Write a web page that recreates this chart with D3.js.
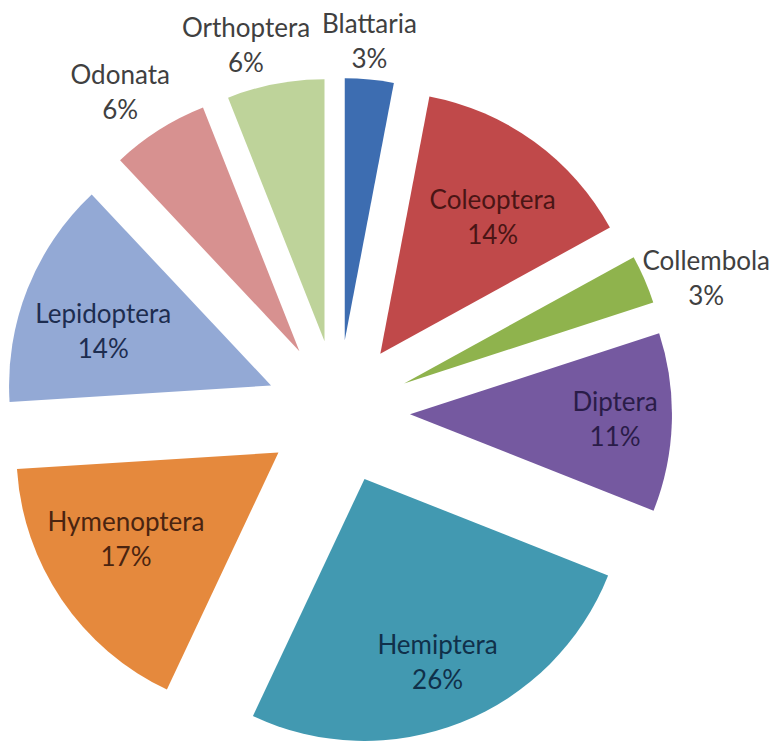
<!DOCTYPE html>
<html>
<head>
<meta charset="utf-8">
<script src="https://cdn.jsdelivr.net/npm/d3@7"></script>
<style>
  html, body { margin: 0; padding: 0; background: #fff; }
  svg { display: block; font-family: Lato, "Open Sans", sans-serif; }
</style>
</head>
<body>
<svg id="chart" width="773" height="742"></svg>
<script>
(function () {
    'use strict';

    // order taken clockwise from 12 o'clock
    var categories = ["Blattaria", "Coleoptera", "Collembola", "Diptera", "Hemiptera",
                      "Hymenoptera", "Lepidoptera", "Odonata", "Orthoptera"];
    var percents = [3, 14, 3, 11, 26, 17, 14, 6, 6];

    var colors = ["#3d6db1", "#c0494a", "#8fb34d", "#7559a0", "#4299b1",
                  "#e5893d", "#93a9d5", "#d79190", "#bed39a"];
    var innerText = ["#1c2f55", "#4a1515", "#2f3d18", "#2a1c48", "#10304a",
                     "#4a2410", "#1d2d50", "#4a2020", "#39431f"];

    var W = 773;
    var cx = 338, cy = 412, r = 262, explode = 72;
    var lineGap = 35, boxH = 54, edgeMargin = 18, arcMargin = 12, gap = 10, pad = 12;

    var svg = d3.select("#chart");
    var g = svg.append("g").attr("transform", "translate(" + cx + "," + cy + ")");

    var pie = d3.pie().sort(null).value(d => d);
    var arcs = pie(percents);
    var arc = d3.arc().innerRadius(0).outerRadius(r);

    function mid(d) { return (d.startAngle + d.endAngle) / 2; }
    function dir(d) { var a = mid(d); return [Math.sin(a), -Math.cos(a)]; }

    g.selectAll("path.slice")
        .data(arcs)
      .enter().append("path")
        .attr("class", "slice")
        .attr("d", arc)
        .attr("fill", (d, i) => colors[i])
        .attr("transform", d => {
            var u = dir(d);
            return "translate(" + explode * u[0] + "," + explode * u[1] + ")";
        });

    // labels: big slices get the label inside, small ones outside
    var labels = g.selectAll("text.lbl")
        .data(arcs)
      .enter().append("text")
        .attr("class", "lbl")
        .attr("text-anchor", "middle")
        .style("font-size", "26px")
        .attr("fill", (d, i) => d.value >= 10 ? innerText[i] : "#404040");

    labels.append("tspan").attr("x", 0).attr("dy", 0).text((d, i) => categories[i]);
    labels.append("tspan").attr("x", 0).attr("dy", lineGap).text(d => d.value + "%");

    function rampX(x) { return Math.max(0, Math.min(1, (x - 0.3) / 0.45)); }
    function rampY(x) { return Math.max(0, Math.min(1, (x - 0.45) / 0.4)); }

    var boxes = [];
    labels.each(function (d) {
        var w = 0;
        d3.select(this).selectAll("tspan").each(function () {
            w = Math.max(w, this.getComputedTextLength());
        });
        var u = dir(d), px, py;
        var hw = w / 2, hh = boxH / 2;
        if (d.value >= 10) {
            // inside: along the bisector, slid sideways to keep clear of the slice edges
            var a = mid(d), half = (d.endAngle - d.startAngle) / 2;
            var tc = [Math.cos(a), Math.sin(a)];
            var nA = [Math.cos(d.startAngle), Math.sin(d.startAngle)];
            var nB = [-Math.cos(d.endAngle), -Math.sin(d.endAngle)];
            var kA = hw * Math.abs(nA[0]) + hh * Math.abs(nA[1]);
            var kB = hw * Math.abs(nB[0]) + hh * Math.abs(nB[1]);
            var D = 0.67 * r, base = D * Math.sin(half), ch = Math.cos(half);
            var dA = base - kA, dB = base - kB, t = 0;
            if (dA < edgeMargin && dB < edgeMargin) t = (kA - kB) / (2 * ch);
            else if (dA < edgeMargin) t = (edgeMargin - dA) / ch;
            else if (dB < edgeMargin) t = -(edgeMargin - dB) / ch;
            else {
                // room to spare: slide out until the far corner nears the arc
                var bq = Math.abs(u[0]) * hw + Math.abs(u[1]) * hh;
                var R = r - arcMargin;
                D = Math.max(D, -bq + Math.sqrt(bq * bq - (hw * hw + hh * hh - R * R)));
            }
            px = (explode + D) * u[0] + t * tc[0];
            py = (explode + D) * u[1] + t * tc[1];
        } else {
            // outside: beside the middle of the outer arc
            var sx = rampX(Math.abs(u[0])) * Math.sign(u[0]);
            var sy = rampY(Math.abs(u[1])) * Math.sign(u[1]);
            px = (explode + r) * u[0] + (gap + hw) * sx;
            py = (explode + r) * u[1] + (gap + hh) * sy;
            px = Math.max(-cx + hw + 3, Math.min(W - cx - hw - 3, px));
            boxes.push({node: this, x: px, y: py, w: w});
        }
        d.lx = px; d.ly = py;
    });

    // push overlapping outside labels apart (move the left one further left)
    boxes.sort((a, b) => b.x - a.x);
    for (var i = 1; i < boxes.length; i++) {
        for (var j = 0; j < i; j++) {
            var a = boxes[i], b = boxes[j];
            var ox = (a.w + b.w) / 2 - Math.abs(a.x - b.x);
            var oy = boxH - Math.abs(a.y - b.y);
            if (ox > -pad && oy > 0) a.x -= ox + pad;
        }
    }
    boxes.forEach(b => { d3.select(b.node).datum().lx = b.x; });

    labels.attr("transform", d => "translate(" + d.lx + "," + (d.ly - lineGap / 2 + 8) + ")");
}());
</script>
</body>
</html>
